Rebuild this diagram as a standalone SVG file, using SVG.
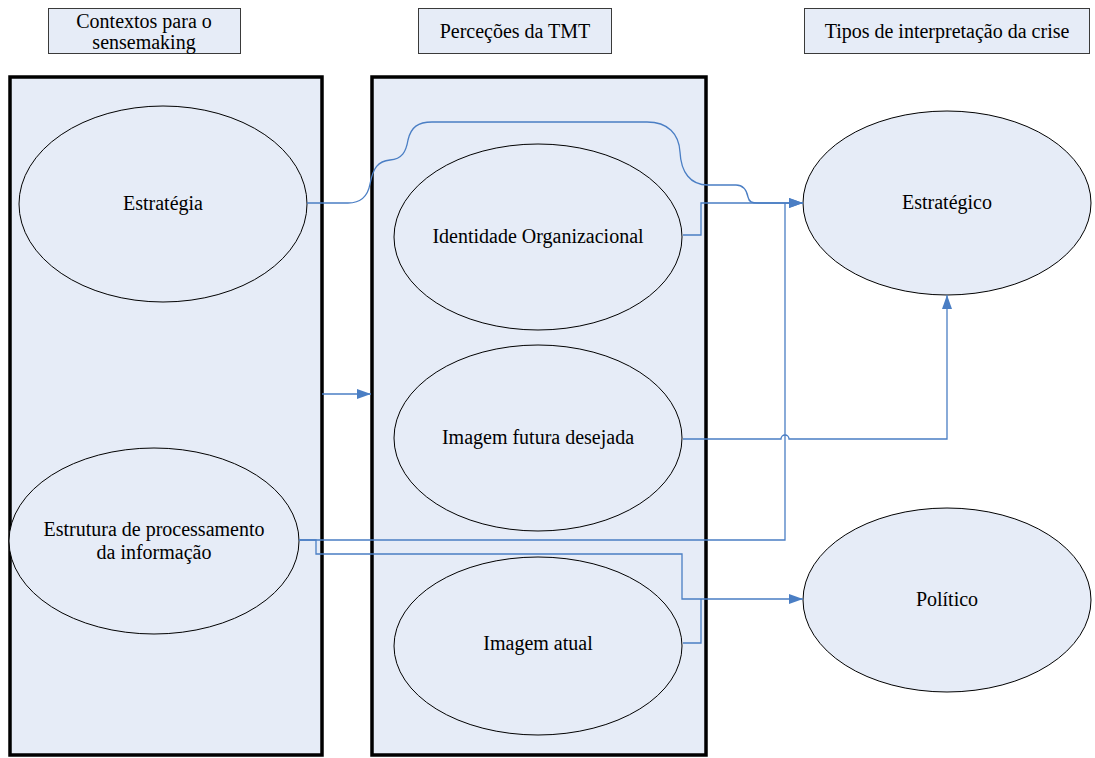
<svg xmlns="http://www.w3.org/2000/svg" width="1095" height="758" viewBox="0 0 1095 758">
  <style>
    .hdr { fill: #E6ECF7; stroke: #3a3a3a; stroke-width: 1; }
    .col { fill: #E6ECF7; stroke: #000; stroke-width: 3.5; }
    .ell { fill: #E6ECF7; stroke: #000; stroke-width: 1; }
    .lbl { font-family: "Liberation Serif", "Times New Roman", serif; font-size: 20px; fill: #000; text-anchor: middle; }
    .con { fill: none; stroke: #4A7EC4; stroke-width: 1.3; }
  </style>
  <defs>
    <marker id="arrow" viewBox="0 0 14 10" refX="14" refY="5" markerWidth="14" markerHeight="10" markerUnits="userSpaceOnUse" orient="auto">
      <path d="M0,0 L14,5 L0,10 Z" fill="#4A7EC4"/>
    </marker>
  </defs>

  <rect width="1095" height="758" fill="#fff"/>

  <!-- column headers -->
  <g id="hdr-contextos">
    <rect class="hdr" x="48.5" y="8.5" width="192" height="45"/>
    <text class="lbl" x="144" y="28">Contextos para o</text>
    <text class="lbl" x="144" y="49">sensemaking</text>
  </g>
  <g id="hdr-percecoes">
    <rect class="hdr" x="418.5" y="8.5" width="193" height="45"/>
    <text class="lbl" x="515" y="38">Perceções da TMT</text>
  </g>
  <g id="hdr-tipos">
    <rect class="hdr" x="804.5" y="8.5" width="285" height="45"/>
    <text class="lbl" x="947" y="38">Tipos de interpretação da crise</text>
  </g>

  <!-- column containers -->
  <g id="col-contextos">
    <rect class="col" x="10" y="77" width="312" height="678"/>
  </g>
  <g id="col-percecoes">
    <rect class="col" x="372" y="77" width="334" height="678"/>
  </g>

  <!-- context nodes -->
  <g id="n-estrategia">
    <ellipse class="ell" cx="163" cy="204" rx="144" ry="98"/>
    <text class="lbl" x="163" y="210">Estratégia</text>
  </g>
  <g id="n-estrutura">
    <ellipse class="ell" cx="154" cy="541" rx="145" ry="93"/>
    <text class="lbl" x="154" y="536">Estrutura de processamento</text>
    <text class="lbl" x="154" y="559">da informação</text>
  </g>

  <!-- perception nodes -->
  <g id="n-identidade">
    <ellipse class="ell" cx="538" cy="237" rx="144" ry="93"/>
    <text class="lbl" x="538" y="243">Identidade Organizacional</text>
  </g>
  <g id="n-futura">
    <ellipse class="ell" cx="538" cy="438" rx="144" ry="93"/>
    <text class="lbl" x="538" y="444">Imagem futura desejada</text>
  </g>
  <g id="n-atual">
    <ellipse class="ell" cx="538" cy="646" rx="144" ry="89"/>
    <text class="lbl" x="538" y="650">Imagem atual</text>
  </g>

  <!-- interpretation nodes -->
  <g id="n-estrategico">
    <ellipse class="ell" cx="947" cy="203" rx="144" ry="92"/>
    <text class="lbl" x="947" y="209">Estratégico</text>
  </g>
  <g id="n-politico">
    <ellipse class="ell" cx="947" cy="600" rx="144" ry="92"/>
    <text class="lbl" x="947" y="606">Político</text>
  </g>

  <!-- connectors -->
  <g id="connectors">
    <!-- contexts column to perceptions column -->
    <path class="con" d="M322,394 H371" marker-end="url(#arrow)"/>
    <!-- Estratégia to Estratégico, routed over the perceptions column -->
    <path class="con" d="M307,203 H348 C362,203 368,195 370,184 C373,168 378,161 390,160 C402,159 406,152 408,140 C411,127 418,122 432,122 H647 C668,122 679,134 680,152 C681,172 690,185 708,185 H736 C745,185 747,192 748,197 C749,202 752,203 758,203 H803" marker-end="url(#arrow)"/>
    <!-- Identidade Organizacional to Estratégico -->
    <path class="con" d="M683,235 H701 V203 H803" marker-end="url(#arrow)"/>
    <!-- Estrutura to Estratégico -->
    <path class="con" d="M299,540 H785 V203"/>
    <!-- Estrutura to Político -->
    <path class="con" d="M299,540 H316 V554 H682 V599 H803" marker-end="url(#arrow)"/>
    <!-- Imagem atual to Político -->
    <path class="con" d="M683,643 H701 V599"/>
    <!-- Imagem futura desejada to Estratégico, hopping the vertical line -->
    <path class="con" d="M683,439 H781 A4,4 0 0 1 789,439 H947 V295" marker-end="url(#arrow)"/>
  </g>
</svg>
